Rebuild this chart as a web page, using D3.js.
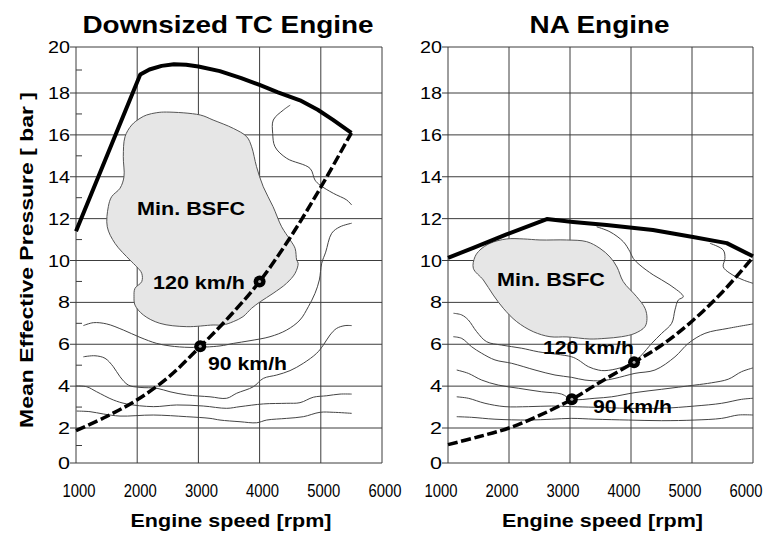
<!DOCTYPE html>
<html>
<head>
<meta charset="utf-8">
<script src="https://cdn.jsdelivr.net/npm/d3@7"></script>
<style>
  body { margin: 0; background: #fff; }
  svg { display: block; font-family: "Liberation Sans", Arial, sans-serif; }
</style>
</head>
<body>
<svg id="chart" width="769" height="536"></svg>
<script>
// Axis ticks;
const rpmTicks = [1000, 2000, 3000, 4000, 5000, 6000]
const bmepTicks = [0, 2, 4, 6, 8, 10, 12, 14, 16, 18, 20]
const bmepMinorTicks = [1, 3, 5, 7, 9, 11, 13, 15, 17, 19]

/////////////////////////////
// Downsized TC engine: [rpm, bmep];

const tcFullLoad = [[1000, 11.4], [2050, 18.8], [2200, 19.02], [2400, 19.18], [2600, 19.25],
    [2800, 19.23], [3000, 19.15], [3350, 18.95], [3700, 18.65], [4000, 18.35], [4300, 18.03],
    [4660, 17.65], [4950, 17.2], [5200, 16.72], [5500, 16.1]]

const tcRoadLoad = [[1000, 1.85], [1500, 2.55], [2000, 3.35], [2500, 4.4], [3000, 5.8],
    [3500, 7.3], [4000, 9.0], [4500, 11.1], [5000, 13.5], [5500, 16.1]]

const tcMinBsfc = [[2155, 16.95], [2320, 17.06], [2480, 17.09], [3030, 16.95], [3240, 16.71],
    [3570, 16.31], [3790, 15.91], [3870, 15.43], [3950, 14.48], [4060, 13.52], [4220, 12.57],
    [4360, 11.61], [4500, 10.98], [4580, 10.58], [4606, 10.02], [4630, 9.87], [4580, 9.39],
    [4440, 8.91], [4220, 8.43], [4010, 8.03], [3870, 7.72], [3730, 7.32], [3570, 7.08],
    [3400, 6.92], [3240, 6.92], [2810, 6.84], [2370, 7.0], [2100, 7.4], [1964, 7.87],
    [1948, 8.27], [1964, 8.67], [2074, 8.99], [2074, 9.39], [1992, 9.7], [1882, 10.02],
    [1637, 10.82], [1511, 11.61], [1528, 12.57], [1583, 13.05], [1719, 13.45], [1784, 14.0],
    [1773, 14.96], [1801, 15.91], [1910, 16.47], [2046, 16.79]]

const tcContours = [
    [[4500, 17.42], [4390, 17.19], [4224, 16.71], [4214, 16.07], [4252, 15.43], [4443, 14.88],
     [4824, 14.4], [4905, 13.84], [4987, 13.6], [5204, 13.21], [5423, 12.89], [5505, 12.65]],
    [[1120, 6.89], [1283, 7.03], [1502, 6.97], [1773, 6.68], [2046, 6.33], [2319, 6.04],
     [2536, 5.92], [2863, 5.85], [3353, 5.92], [3570, 6.04], [3843, 6.17], [4170, 6.36],
     [4443, 6.68], [4660, 7.16], [4796, 7.79], [4905, 8.43], [4976, 9.07], [5015, 9.87],
     [5080, 10.4], [5178, 11.3], [5314, 11.61], [5505, 11.78]],
    [[1120, 5.4], [1310, 5.45], [1474, 5.33], [1609, 4.93], [1719, 4.45], [1855, 4.05],
     [2046, 3.94], [2319, 3.9], [2536, 3.73], [2809, 3.58], [3190, 3.49], [3462, 3.42],
     [3626, 3.66], [3897, 3.97], [4061, 4.37], [4280, 4.53], [4497, 4.74], [4714, 5.09],
     [4933, 5.57], [5041, 5.96], [5150, 6.44], [5260, 6.76], [5395, 6.89], [5505, 6.89]],
    [[1000, 4.01], [1175, 3.97], [1338, 3.73], [1609, 3.34], [1828, 3.15], [2263, 3.02],
     [2645, 3.1], [3080, 3.05], [3462, 2.94], [3680, 3.02], [4061, 3.15], [4443, 3.18],
     [4660, 3.21], [4878, 3.47], [5097, 3.54], [5314, 3.62], [5505, 3.62]],
    [[1010, 2.81], [1229, 2.78], [1446, 2.67], [1719, 2.57], [2263, 2.62], [2809, 2.54],
     [3190, 2.46], [3353, 2.38], [3680, 2.3], [3953, 2.25], [4116, 2.38], [4443, 2.46],
     [4714, 2.54], [4987, 2.75], [5204, 2.75], [5505, 2.7]]
]

const tcSpeedPoints = [
    {rpm: 4000, bmep: 9.0, label: "120 km/h", lx: 2258, ly: 8.64, width: 92},
    {rpm: 3030, bmep: 5.9, label: "90 km/h", lx: 3157, ly: 4.77, width: 79}
]

/////////////////////////////
// NA engine: [rpm, bmep];

const naFullLoad = [[1000, 10.13], [1415, 10.6], [1960, 11.25], [2620, 11.98], [3050, 11.84],
    [3600, 11.69], [4360, 11.46], [5016, 11.12], [5570, 10.83], [6000, 10.2]]

const naRoadLoad = [[1000, 1.05], [1500, 1.5], [2000, 2.0], [2500, 2.6], [3030, 3.37],
    [3500, 4.2], [4050, 5.14], [4500, 5.95], [5000, 7.1], [5500, 8.5], [6000, 10.15]]

const naMinBsfc = [[1443, 10.18], [1524, 10.5], [1688, 10.82], [1962, 11.03], [2234, 11.03],
    [2508, 10.98], [2945, 10.98], [3273, 10.9], [3491, 10.58], [3655, 10.17], [3770, 9.69],
    [3873, 8.99], [4093, 8.27], [4229, 7.72], [4262, 7.24], [4229, 6.84], [4065, 6.52],
    [3847, 6.36], [3573, 6.28], [3327, 6.25], [2950, 6.35], [2672, 6.36], [2398, 6.6],
    [2126, 7.08], [1906, 7.72], [1742, 8.35], [1579, 9.07], [1415, 9.63]]

const naContours = [
    [[1090, 7.48], [1225, 7.4], [1333, 7.16], [1470, 6.6], [1634, 6.12], [1880, 5.96],
     [2208, 5.81], [2480, 5.64], [3027, 5.4], [3136, 5.25], [3300, 4.93], [3463, 4.77],
     [3573, 4.74], [3819, 4.87], [4053, 5.17], [4175, 5.49], [4339, 6.04], [4503, 6.52],
     [4667, 7.0], [4721, 7.64], [4775, 8.11], [4857, 8.27], [4639, 8.83], [4365, 9.31],
     [4147, 9.78], [4037, 10.1], [3983, 10.42], [3873, 10.9], [3655, 11.37], [3437, 11.61]],
    [[1087, 6.36], [1225, 6.28], [1388, 5.88], [1552, 5.57], [1770, 5.25], [2044, 5.09],
     [2426, 4.77], [2754, 4.53], [3027, 4.42], [3245, 4.29], [3519, 4.26], [3737, 4.37],
     [4065, 4.61], [4393, 4.77], [4721, 5.4], [4939, 6.04], [5212, 6.52], [5594, 6.76],
     [6000, 6.97]],
    [[1143, 4.77], [1333, 4.61], [1552, 4.29], [1824, 4.05], [2152, 3.9], [2536, 3.73],
     [2864, 3.62], [3027, 3.37], [3409, 3.42], [3683, 3.49], [4065, 3.69], [4503, 3.85],
     [5048, 4.05], [5322, 4.16], [5594, 4.33], [5813, 4.69], [6000, 4.87]],
    [[1143, 3.49], [1333, 3.42], [1606, 3.18], [1934, 3.02], [2316, 3.02], [2700, 3.05],
     [3027, 3.02], [3409, 2.99], [3955, 2.94], [4503, 2.94], [5048, 3.05], [5486, 3.18],
     [5813, 3.37], [6000, 3.42]],
    [[1143, 2.54], [1388, 2.51], [1770, 2.42], [2316, 2.38], [2700, 2.42], [3027, 2.46],
     [3409, 2.42], [3955, 2.38], [4503, 2.35], [5048, 2.38], [5486, 2.46], [5758, 2.62],
     [6000, 2.62]],
    [[5294, 10.82], [5512, 10.5], [5540, 10.1], [5512, 9.7], [5622, 9.39], [5840, 9.07],
     [6000, 8.91]]
]

const naSpeedPoints = [
    {rpm: 4050, bmep: 5.14, label: "120 km/h", lx: 2557, ly: 5.53, width: 91},
    {rpm: 3030, bmep: 3.37, label: "90 km/h", lx: 3377, ly: 2.72, width: 79}
]

/////////////////////////////
// Panel layout (pixels);

const panels = [
    {title: "Downsized TC Engine", titleWidth: 291, x0: 76, x1: 382, tickDx: 3,
     fullLoad: tcFullLoad, roadLoad: tcRoadLoad, minBsfc: tcMinBsfc, contours: tcContours,
     points: tcSpeedPoints, bsfcLabel: [2880, 12.17], minorTicks: true, yLabel: true},
    {title: "NA Engine", titleWidth: 140, x0: 448, x1: 753, tickDx: -7,
     fullLoad: naFullLoad, roadLoad: naRoadLoad, minBsfc: naMinBsfc, contours: naContours,
     points: naSpeedPoints, bsfcLabel: [2688, 8.78], minorTicks: false, yLabel: false}
]

const svg = d3.select("#chart")
const gridColor = "#3c3c3c"

var drawPanel = p => {
    const x = d3.scaleLinear().domain([1000, 6000]).range([p.x0, p.x1])
    // The scanned axis is not perfectly even: first and last steps differ;
    const y = d3.scaleLinear().domain([0, 2, 18, 20]).range([463, 428, 93, 47])

    const g = svg.append("g")

    // Grid;
    g.selectAll("line.h").data(bmepTicks).join("line")
        .attr("x1", p.x0 - 6).attr("x2", p.x1)
        .attr("y1", d => y(d)).attr("y2", d => y(d))
        .attr("stroke", gridColor).attr("stroke-width", 1)
    g.selectAll("line.v").data(rpmTicks).join("line")
        .attr("x1", d => x(d)).attr("x2", d => x(d))
        .attr("y1", y(0)).attr("y2", y(20))
        .attr("stroke", gridColor).attr("stroke-width", 1)
    if (p.minorTicks) {
        g.selectAll("line.m").data(bmepMinorTicks).join("line")
            .attr("x1", p.x0).attr("x2", p.x0 + 6)
            .attr("y1", d => y(d)).attr("y2", d => y(d))
            .attr("stroke", gridColor).attr("stroke-width", 1)
    }

    // Tick labels;
    g.selectAll("text.yt").data(bmepTicks).join("text")
        .attr("x", p.x0 - 6).attr("y", d => y(d)).attr("dy", "0.36em")
        .attr("text-anchor", "end").attr("font-size", 17)
        .attr("textLength", d => d < 10 ? 12 : 22).attr("lengthAdjust", "spacingAndGlyphs")
        .text(d => d)
    g.selectAll("text.xt").data(rpmTicks).join("text")
        .attr("x", d => x(d) + p.tickDx).attr("y", 497)
        .attr("text-anchor", "middle").attr("font-size", 18)
        .attr("textLength", 33).attr("lengthAdjust", "spacingAndGlyphs")
        .text(d => d)

    // Axis titles;
    g.append("text")
        .attr("x", (p.x0 + p.x1) / 2 + 2).attr("y", 527)
        .attr("text-anchor", "middle").attr("font-size", 18).attr("font-weight", "bold")
        .attr("textLength", 201).attr("lengthAdjust", "spacingAndGlyphs")
        .text("Engine speed [rpm]")
    g.append("text")
        .attr("x", (p.x0 + p.x1) / 2 - 1).attr("y", 33)
        .attr("text-anchor", "middle").attr("font-size", 24).attr("font-weight", "bold")
        .attr("textLength", p.titleWidth).attr("lengthAdjust", "spacingAndGlyphs")
        .text(p.title)
    if (p.yLabel) {
        g.append("text")
            .attr("transform", "translate(33,260) rotate(-90)")
            .attr("text-anchor", "middle").attr("font-size", 19).attr("font-weight", "bold")
            .attr("textLength", 336).attr("lengthAdjust", "spacingAndGlyphs")
            .text("Mean Effective Pressure [ bar ]")
    }

    // Min. BSFC island;
    const area = d3.line().x(d => x(d[0])).y(d => y(d[1])).curve(d3.curveCatmullRomClosed)
    g.append("path").attr("d", area(p.minBsfc))
        .attr("fill", "#e6e6e6").attr("stroke", "#555").attr("stroke-width", 1)

    // BSFC contours;
    const contour = d3.line().x(d => x(d[0])).y(d => y(d[1])).curve(d3.curveCatmullRom)
    g.selectAll("path.c").data(p.contours).join("path")
        .attr("d", contour)
        .attr("fill", "none").attr("stroke", "#444").attr("stroke-width", 1)

    // Full load (polyline) and road load (smooth) curves;
    const fullLine = d3.line().x(d => x(d[0])).y(d => y(d[1]))
    const roadLine = d3.line().x(d => x(d[0])).y(d => y(d[1])).curve(d3.curveCatmullRom.alpha(0.5))
    g.append("path").attr("d", fullLine(p.fullLoad))
        .attr("fill", "none").attr("stroke", "#000").attr("stroke-width", 4)
        .attr("stroke-linejoin", "round")
    g.append("path").attr("d", roadLine(p.roadLoad))
        .attr("fill", "none").attr("stroke", "#000").attr("stroke-width", 3.5)
        .attr("stroke-dasharray", "10,3.5")

    // Labels;
    g.append("text")
        .attr("x", x(p.bsfcLabel[0])).attr("y", y(p.bsfcLabel[1]))
        .attr("text-anchor", "middle").attr("font-size", 19).attr("font-weight", "bold")
        .attr("textLength", 108).attr("lengthAdjust", "spacingAndGlyphs")
        .text("Min. BSFC")
    g.selectAll("text.sp").data(p.points).join("text")
        .attr("x", d => x(d.lx)).attr("y", d => y(d.ly))
        .attr("font-size", 19).attr("font-weight", "bold")
        .attr("textLength", d => d.width).attr("lengthAdjust", "spacingAndGlyphs")
        .text(d => d.label)

    // Vehicle speed points;
    g.selectAll("circle.pt").data(p.points).join("circle")
        .attr("cx", d => x(d.rpm)).attr("cy", d => y(d.bmep)).attr("r", 6)
        .attr("fill", "#000")
    g.selectAll("circle.dot").data(p.points).join("circle")
        .attr("cx", d => x(d.rpm)).attr("cy", d => y(d.bmep)).attr("r", 1.5)
        .attr("fill", "#aaa")
}

panels.forEach(drawPanel)
</script>
</body>
</html>
